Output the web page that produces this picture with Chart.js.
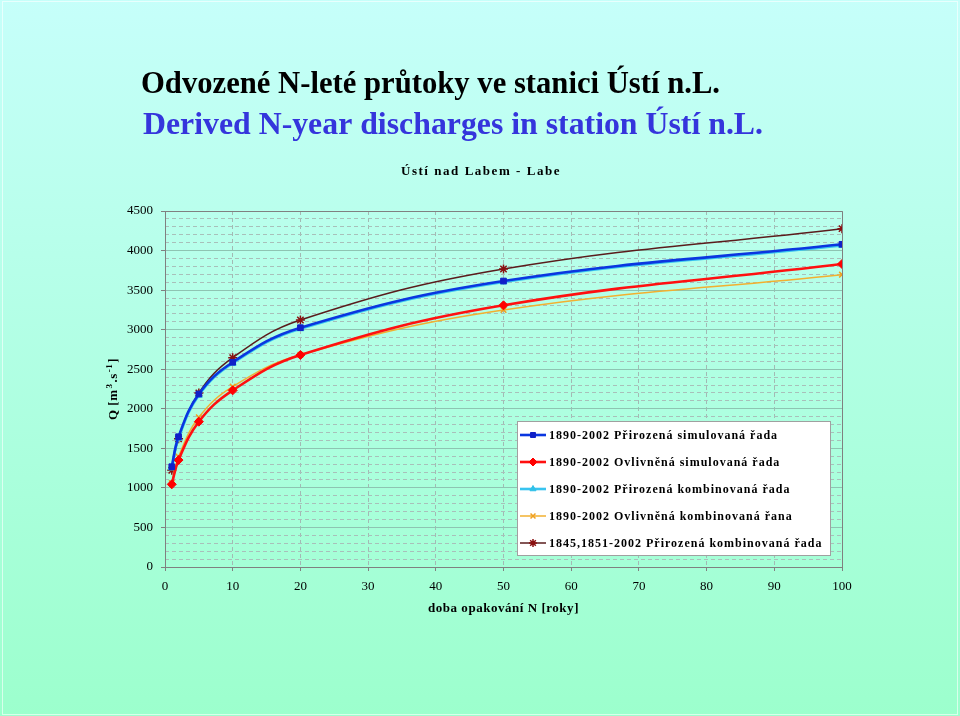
<!DOCTYPE html>
<html><head><meta charset="utf-8">
<script src="https://cdn.jsdelivr.net/npm/chart.js@4/dist/chart.umd.min.js"></script>
<style>html,body{margin:0;padding:0;background:#c6fffa;}canvas{display:block}</style>
</head><body>
<canvas id="c" width="960" height="716"></canvas>
<script>
// ---- data ----
const returnPeriods = [1, 2, 5, 10, 20, 50, 100];
const seriesLabels = [
  '1890-2002 Přirozená simulovaná řada',
  '1890-2002 Ovlivněná simulovaná řada',
  '1890-2002 Přirozená kombinovaná řada',
  '1890-2002 Ovlivněná kombinovaná řana',
  '1845,1851-2002 Přirozená kombinovaná řada'
];
const natSim      = [1268, 1647, 2187, 2588, 3025, 3615, 4079];
const inflSim     = [1045, 1352, 1837, 2233, 2680, 3308, 3830];
const natComb     = [1252, 1628, 2172, 2576, 3012, 3603, 4066];
const inflComb    = [1062, 1394, 1892, 2279, 2683, 3249, 3695];
const natCombLong = [1222, 1620, 2200, 2646, 3122, 3767, 4277];
const xTickValues = [0, 10, 20, 30, 40, 50, 60, 70, 80, 90, 100];
const yTickValues = [0, 500, 1000, 1500, 2000, 2500, 3000, 3500, 4000, 4500];
const titleCz = 'Odvozené N-leté průtoky ve stanici Ústí n.L.';
const titleEn = 'Derived N-year discharges in station Ústí n.L.';
const subTitle = 'Ústí nad Labem - Labe';
const xTitle = 'doba opakování N [roky]';

const serif = '"Liberation Serif", "Times New Roman", serif';
const pts = arr => returnPeriods.map((x, i) => ({x: x, y: arr[i]}));

const styles = [
  {c: '#0a36e0', pc: '#1020c8', w: 2.6, ps: 'rect', r: 4},
  {c: '#ff1010', pc: '#ff0000', w: 2.6, ps: 'rectRot', r: 4.5},
  {c: '#38c4f0', pc: '#30c0e8', w: 2.6, ps: 'triangle', r: 4},
  {c: '#f2b030', pc: '#f0a020', w: 1.5, ps: 'crossRot', r: 4},
  {c: '#5a1c1c', pc: '#8a1010', w: 1.5, ps: 'star', r: 4.5}
];
const seriesData = [natSim, inflSim, natComb, inflComb, natCombLong];

const datasets = seriesData.map((d, i) => ({
  label: seriesLabels[i],
  data: pts(d),
  borderColor: styles[i].c,
  backgroundColor: styles[i].pc,
  pointBorderColor: styles[i].pc,
  pointBackgroundColor: styles[i].pc,
  borderWidth: styles[i].w,
  pointStyle: styles[i].ps,
  pointRadius: styles[i].r,
  pointBorderWidth: (styles[i].ps === 'crossRot' || styles[i].ps === 'star') ? 1.5 : 1,
  tension: 0.4,
  fill: false,
  yAxisID: 'y',
  xAxisID: 'x'
}));

function fitSpaced(ctx, text, left, y, w) {
  ctx.letterSpacing = '0px';
  const m = ctx.measureText(text).width;
  const ls = (w - m) / text.length;
  ctx.letterSpacing = ls + 'px';
  ctx.textAlign = 'left';
  ctx.fillText(text, left, y);
  ctx.letterSpacing = '0px';
}
function fitScaled(ctx, text, left, y, w) {
  ctx.letterSpacing = '0px';
  const m = ctx.measureText(text).width;
  ctx.save();
  ctx.translate(left, y);
  ctx.scale(w / m, 1);
  ctx.textAlign = 'left';
  ctx.fillText(text, 0, 0);
  ctx.restore();
}

const bgPlugin = {
  id: 'bg',
  beforeDraw(chart) {
    const ctx = chart.ctx;
    const g = ctx.createLinearGradient(0, 0, 0, chart.height);
    g.addColorStop(0, '#c6fffa');
    g.addColorStop(1, '#9cffcd');
    ctx.save();
    ctx.fillStyle = g;
    ctx.fillRect(0, 0, chart.width, chart.height);
    ctx.strokeStyle = 'rgba(255,255,255,0.6)';
    ctx.lineWidth = 1;
    ctx.strokeRect(2.5, 1.5, chart.width - 5, chart.height - 3);
    ctx.restore();
  }
};

const decorPlugin = {
  id: 'decor',
  afterDraw(chart) {
    const ctx = chart.ctx;
    const a = chart.chartArea;
    ctx.save();
    // frame
    ctx.strokeStyle = '#808080';
    ctx.lineWidth = 1;
    ctx.beginPath();
    ctx.moveTo(Math.round(a.left) + 0.5, Math.round(a.top) + 0.5);
    ctx.lineTo(Math.round(a.right) + 0.5, Math.round(a.top) + 0.5);
    ctx.lineTo(Math.round(a.right) + 0.5, Math.round(a.bottom) + 0.5);
    ctx.stroke();

    ctx.textBaseline = 'alphabetic';
    // titles
    ctx.fillStyle = '#000';
    ctx.font = 'bold 32px ' + serif;
    fitScaled(ctx, titleCz, 141, 93, 579);
    ctx.fillStyle = '#3535dc';
    fitScaled(ctx, titleEn, 143, 134, 620);
    ctx.fillStyle = '#000';
    ctx.font = 'bold 13px ' + serif;
    fitSpaced(ctx, subTitle, 401, 175, 160);
    // x axis title
    fitSpaced(ctx, xTitle, 428, 612, 151);
    // y axis title
    ctx.save();
    ctx.translate(117, 420);
    ctx.rotate(-Math.PI / 2);
    let u = 0;
    const part = (t, size, dy) => {
      ctx.font = 'bold ' + size + 'px ' + serif;
      ctx.fillText(t, u, dy);
      u += ctx.measureText(t).width + 1;
    };
    ctx.letterSpacing = '0.5px';
    part('Q [m', 13, 0);
    part('3', 9, -5);
    part('.s', 13, 0);
    part('-1', 9, -5);
    part(']', 13, 0);
    ctx.letterSpacing = '0px';
    ctx.restore();

    // legend
    const lx = 517, ly = 421, lw = 313, lh = 134;
    ctx.fillStyle = '#ffffff';
    ctx.fillRect(lx, ly, lw, lh);
    ctx.strokeStyle = '#a0a0a0';
    ctx.strokeRect(lx + 0.5, ly + 0.5, lw, lh);
    chart.data.datasets.forEach((ds, i) => {
      const cy = 435 + i * 27;
      ctx.strokeStyle = ds.borderColor;
      ctx.lineWidth = ds.borderWidth;
      ctx.beginPath();
      ctx.moveTo(520, cy);
      ctx.lineTo(546, cy);
      ctx.stroke();
      ctx.fillStyle = ds.pointBackgroundColor;
      ctx.strokeStyle = ds.pointBorderColor;
      ctx.lineWidth = ds.pointBorderWidth;
      if (Chart.helpers && Chart.helpers.drawPoint) {
        Chart.helpers.drawPoint(ctx, {pointStyle: ds.pointStyle, radius: ds.pointRadius - 0.5, rotation: 0, borderWidth: ds.pointBorderWidth}, 533, cy);
      }
      ctx.fillStyle = '#000';
      ctx.font = 'bold 12px ' + serif;
      ctx.letterSpacing = '1px';
      ctx.textAlign = 'left';
      ctx.fillText(ds.label, 549, cy + 4);
      ctx.letterSpacing = '0px';
    });
    ctx.restore();
  }
};

const tickFont = {family: serif, size: 13};

new Chart(document.getElementById('c'), {
  type: 'line',
  data: {datasets: datasets},
  plugins: [bgPlugin, decorPlugin],
  options: {
    responsive: false,
    animation: false,
    layout: {padding: {left: 105, right: 118, top: 211, bottom: 109}},
    plugins: {legend: {display: false}, tooltip: {enabled: false}, title: {display: false}},
    elements: {line: {capBezierPoints: true}},
    scales: {
      x: {
        type: 'linear', min: 0, max: 100,
        afterBuildTicks: s => { s.ticks = xTickValues.map(v => ({value: v})); },
        afterFit: s => { s.height = 40; },
        grid: {color: '#a2bab4', lineWidth: 1, tickLength: 4, tickColor: '#808080'},
        border: {display: true, color: '#808080', width: 1, dash: [4, 3]},
        ticks: {font: tickFont, color: '#000', padding: 8, maxRotation: 0, autoSkip: false, callback: v => String(v)}
      },
      y: {
        type: 'linear', min: 0, max: 4500, position: 'left',
        afterBuildTicks: s => { s.ticks = yTickValues.map(v => ({value: v})); },
        afterFit: s => { s.width = 60; },
        grid: {color: '#8ec4b2', lineWidth: 1, tickLength: 4, tickColor: '#808080'},
        border: {display: true, color: '#808080', width: 1},
        ticks: {font: tickFont, color: '#000', padding: 8, callback: v => String(v)}
      },
      yMinor: {
        type: 'linear', min: 0, max: 4500, position: 'left',
        afterFit: s => { s.width = 0; },
        grid: {
          color: c => (c.tick && c.tick.value % 500 === 0) ? 'rgba(0,0,0,0)' : '#a8c0ba',
          lineWidth: 1, drawTicks: false
        },
        border: {display: false, dash: [4, 3]},
        ticks: {display: false, stepSize: 100}
      }
    }
  }
});
</script>
</body></html>
